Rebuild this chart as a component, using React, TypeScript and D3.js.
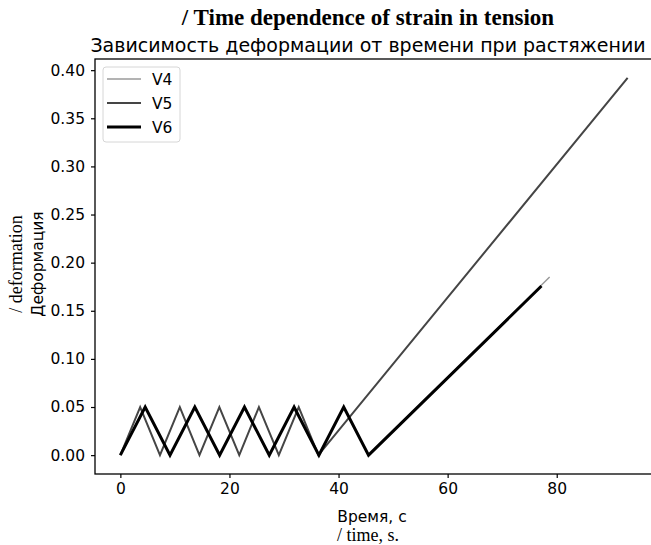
import React from "react";
import * as d3 from "d3";

// values
const timeV4 = [0, 4.55, 9.1, 13.65, 18.2, 22.75, 27.3, 31.85, 36.4, 40.95, 45.5, 78.7];
const strainV4 = [0, 0.05, 0, 0.05, 0, 0.05, 0, 0.05, 0, 0.05, 0, 0.185];
const timeV5 = [0, 3.63, 7.26, 10.9, 14.5, 18.15, 21.8, 25.4, 29.05, 32.7, 36.3, 93.0];
const strainV5 = [0, 0.05, 0, 0.05, 0, 0.05, 0, 0.05, 0, 0.05, 0, 0.392];
const timeV6 = [0, 4.55, 9.1, 13.65, 18.2, 22.75, 27.3, 31.85, 36.4, 40.95, 45.5, 77.2];
const strainV6 = [0, 0.05, 0, 0.05, 0, 0.05, 0, 0.05, 0, 0.05, 0, 0.1757];
const seriesNames = ["V4", "V5", "V6"];
const xTicks = [0, 20, 40, 60, 80];
const yTicks = [0, 0.05, 0.1, 0.15, 0.2, 0.25, 0.3, 0.35, 0.4];

const App = () => {
  const svgRef = React.useRef(null);
  const width = 651;
  const height = 545;
  const margin = { left: 95, top: 59, right: -2, bottom: 71 };

  React.useEffect(() => {
    const data = [
      { name: seriesNames[0], color: "#9a9a9a", w: 1.5, items: timeV4.map((t, i) => ({ X: t, Y: strainV4[i] })) },
      { name: seriesNames[1], color: "#454545", w: 2, items: timeV5.map((t, i) => ({ X: t, Y: strainV5[i] })) },
      { name: seriesNames[2], color: "#000000", w: 3, items: timeV6.map((t, i) => ({ X: t, Y: strainV6[i] })) },
    ];
    const allX = data.flatMap((d) => d.items.map((p) => p.X));
    const allY = data.flatMap((d) => d.items.map((p) => p.Y));
    const [x0, x1] = d3.extent(allX);
    const [y0, y1] = d3.extent(allY);
    const padX = (x1 - x0) * 0.05;
    const padY = (y1 - y0) * 0.05;

    const xScale = d3.scaleLinear()
      .domain([x0 - padX, x1 + padX])
      .range([margin.left, width - margin.right]);
    const yScale = d3.scaleLinear()
      .domain([y0 - padY, y1 + padY])
      .range([height - margin.bottom, margin.top]);

    const svg = d3.select(svgRef.current);
    svg.selectAll("*").remove();

    svg.append("rect").attr("width", width).attr("height", height).attr("fill", "#fff");

    const tickFont = 15.5;

    // axes
    const xAxis = d3.axisBottom(xScale).tickValues(xTicks).tickSize(4).tickPadding(5).tickFormat((v) => `${v}`);
    const xg = svg.append("g")
      .attr("transform", `translate(0,${height - margin.bottom})`)
      .call(xAxis);
    xg.select(".domain").remove();
    xg.selectAll("line").attr("stroke-width", 1.2);
    xg.selectAll("text").attr("font-family", "DejaVu Sans").attr("font-size", tickFont).attr("fill", "#000");

    const yAxis = d3.axisLeft(yScale).tickValues(yTicks).tickSize(4).tickPadding(6).tickFormat(d3.format(".2f"));
    const yg = svg.append("g")
      .attr("transform", `translate(${margin.left},0)`)
      .call(yAxis);
    yg.select(".domain").remove();
    yg.selectAll("line").attr("stroke-width", 1.2);
    yg.selectAll("text").attr("font-family", "DejaVu Sans").attr("font-size", tickFont).attr("fill", "#000");

    // lines
    const line = d3.line()
      .x((d) => xScale(d.X))
      .y((d) => yScale(d.Y));
    svg.selectAll(".line")
      .data(data)
      .enter()
      .append("path")
      .attr("fill", "none")
      .attr("stroke", (d) => d.color)
      .attr("stroke-width", (d) => d.w)
      .attr("stroke-linejoin", "miter")
      .attr("d", (d) => line(d.items));

    // frame
    svg.append("rect")
      .attr("x", margin.left)
      .attr("y", margin.top)
      .attr("width", width - margin.right - margin.left)
      .attr("height", height - margin.bottom - margin.top)
      .attr("fill", "none")
      .attr("stroke", "#000")
      .attr("stroke-width", 1.3);

    // legend
    const lg = svg.append("g").attr("transform", "translate(103,67)");
    lg.append("rect")
      .attr("width", 77).attr("height", 75).attr("rx", 3)
      .attr("fill", "#fff").attr("stroke", "#d6d6d6");
    data.forEach((d, i) => {
      const yy = 12 + i * 24;
      lg.append("line")
        .attr("x1", 4).attr("x2", 38).attr("y1", yy).attr("y2", yy)
        .attr("stroke", d.color).attr("stroke-width", d.w);
      lg.append("text")
        .attr("x", 49).attr("y", yy + 5.5)
        .attr("font-family", "DejaVu Sans").attr("font-size", tickFont)
        .text(d.name);
    });

    // titles
    const cx = 368;
    svg.append("text")
      .attr("x", cx).attr("y", 25)
      .attr("text-anchor", "middle")
      .attr("font-family", "Liberation Serif").attr("font-weight", "bold").attr("font-size", 23)
      .text("/ Time dependence of strain in tension");
    svg.append("text")
      .attr("x", cx).attr("y", 52)
      .attr("text-anchor", "middle")
      .attr("font-family", "DejaVu Sans").attr("font-size", 19)
      .text("Зависимость деформации от времени при растяжении");

    svg.append("text")
      .attr("x", cx + 4).attr("y", 522)
      .attr("text-anchor", "middle")
      .attr("font-family", "DejaVu Sans").attr("font-size", 15.5)
      .text("Время, с");
    svg.append("text")
      .attr("x", cx).attr("y", 541)
      .attr("text-anchor", "middle")
      .attr("font-family", "Liberation Serif").attr("font-size", 18)
      .text("/ time, s.");

    const cy = 264;
    svg.append("text")
      .attr("transform", `translate(43,${cy}) rotate(-90)`)
      .attr("text-anchor", "middle")
      .attr("font-family", "DejaVu Sans").attr("font-size", 15.5)
      .text("Деформация");
    svg.append("text")
      .attr("transform", `translate(22,${cy}) rotate(-90)`)
      .attr("text-anchor", "middle")
      .attr("font-family", "Liberation Serif").attr("font-size", 18)
      .text("/ deformation");
  }, []);

  return (
    <svg
      ref={svgRef}
      width={width}
      height={height}
      style={{ position: "absolute", left: 0, top: 0 }}
    />
  );
};

export default App;
